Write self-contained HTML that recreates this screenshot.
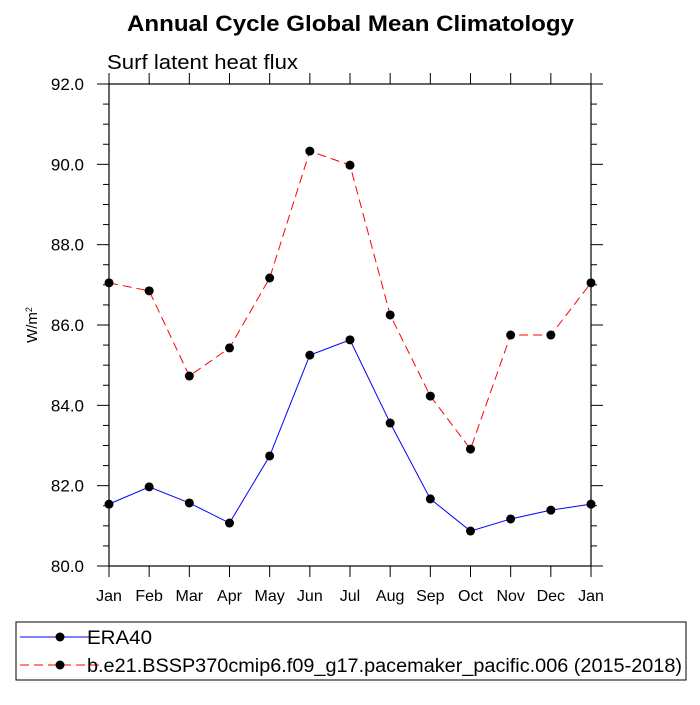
<!DOCTYPE html>
<html><head><meta charset="utf-8"><style>
body{margin:0;background:#fff;}
svg text{font-family:"Liberation Sans",sans-serif;}
</style></head><body>
<svg id="chart" width="700" height="700" xmlns="http://www.w3.org/2000/svg">
<rect width="700" height="700" fill="#fff"/>
<text x="127" y="31" textLength="447" lengthAdjust="spacingAndGlyphs" font-size="22" font-weight="bold">Annual Cycle Global Mean Climatology</text>
<text x="107" y="69" textLength="191" lengthAdjust="spacingAndGlyphs" font-size="20">Surf latent heat flux</text>
<text transform="translate(37,325) rotate(-90)" text-anchor="middle" font-size="15">W/m<tspan baseline-shift="super" font-size="9">2</tspan></text>
<g id="axes"></g>
<g id="series"></g>
<rect x="16" y="622" width="670" height="58" fill="none" stroke="#000" stroke-width="1"/>
<g>
<line x1="20" y1="637" x2="100" y2="637" stroke="#00f" stroke-width="1"/>
<circle cx="60" cy="637" r="4.5" fill="#000"/>
<text x="87" y="644" textLength="65" lengthAdjust="spacingAndGlyphs" font-size="19">ERA40</text>
</g>
<g>
<line x1="20" y1="665" x2="100" y2="665" stroke="#f00" stroke-width="1" stroke-dasharray="9,5"/>
<circle cx="60" cy="665" r="4.5" fill="#000"/>
<text x="87" y="672" textLength="595" lengthAdjust="spacingAndGlyphs" font-size="19">b.e21.BSSP370cmip6.f09_g17.pacemaker_pacific.006 (2015-2018)</text>
</g>
</svg>
<script>
const months = ["Jan","Feb","Mar","Apr","May","Jun","Jul","Aug","Sep","Oct","Nov","Dec","Jan"];
const era40 = [81.54,81.97,81.57,81.07,82.74,85.25,85.63,83.56,81.67,80.87,81.17,81.39,81.54];
const model = [87.05,86.85,84.73,85.43,87.17,90.33,89.98,86.25,84.23,82.91,85.75,85.75,87.05];
const yTicks = [80,82,84,86,88,90,92];
const yTickLabels = ["80.0","82.0","84.0","86.0","88.0","90.0","92.0"];
const L=109,R=591,T=84,B=566,yMin=80,yMax=92;
const ns="http://www.w3.org/2000/svg";
const xs=i=>L+(R-L)*i/(months.length-1);
const ys=v=>B-(B-T)*(v-yMin)/(yMax-yMin);
function mk(tag,attrs,parent){const e=document.createElementNS(ns,tag);for(const k in attrs)e.setAttribute(k,attrs[k]);parent.appendChild(e);return e;}
const ax=document.getElementById('axes'),se=document.getElementById('series');
const frame=mk('rect',{x:L,y:T,width:R-L,height:B-T,fill:'none',stroke:'#000','stroke-width':1.2},ax);


for(let v=yMin;v<=yMax+1e-9;v+=0.5){const y=ys(v);const major=Math.abs(v-Math.round(v/2)*2)<1e-9;const len=major?12:6;
mk('line',{x1:L-len,y1:y,x2:L,y2:y,stroke:'#000'},ax);mk('line',{x1:R,y1:y,x2:R+len,y2:y,stroke:'#000'},ax);}
yTicks.forEach((v,i)=>{const t=mk('text',{x:L-25,y:ys(v)+6,'text-anchor':'end','font-size':17},ax);t.textContent=yTickLabels[i];

});
months.forEach((m,i)=>{const x=xs(i);mk('line',{x1:x,y1:B,x2:x,y2:B+11,stroke:'#000'},ax);mk('line',{x1:x,y1:T-11,x2:x,y2:T,stroke:'#000'},ax);
const t=mk('text',{x:x,y:B+35,'text-anchor':'middle','font-size':16},ax);t.textContent=m;

});
function series(data,color,dash,name){
const p=mk('polyline',{points:data.map((v,i)=>xs(i)+','+ys(v)).join(' '),fill:'none',stroke:color,'stroke-width':1,'stroke-dasharray':dash},se);


data.forEach((v,i)=>{const c=mk('circle',{cx:xs(i),cy:ys(v),r:4.5,fill:'#000'},se);

});}
series(era40,'#00f','none','era40');
series(model,'#f00','9,5','model');
</script>
</body></html>
